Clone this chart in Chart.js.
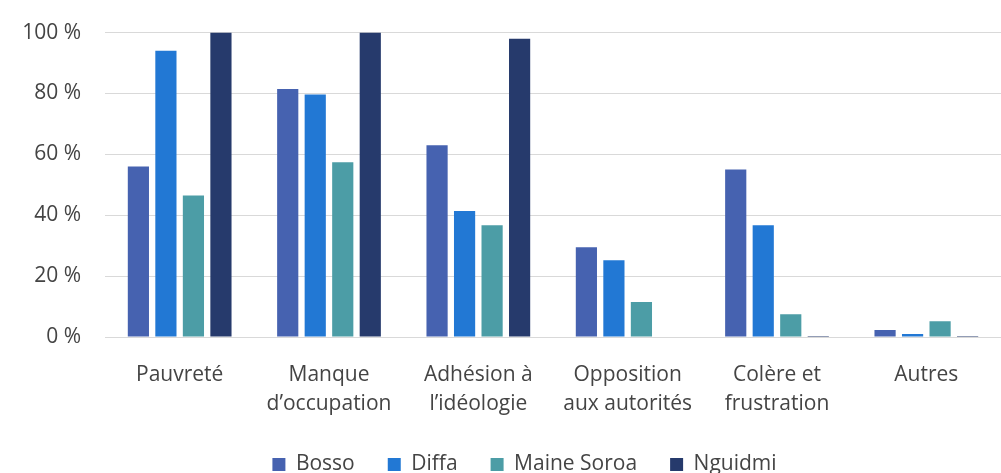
<!DOCTYPE html>
<html>
<head>
<meta charset="utf-8">
<script src="https://cdn.jsdelivr.net/npm/chart.js@4"></script>
<style>
  html, body { margin: 0; padding: 0; background: #ffffff; overflow: hidden; }
  #wrap { width: 1001px; height: 477px; position: relative; margin-top: -4px; }
</style>
</head>
<body>
<div id="wrap"><canvas id="chart"></canvas></div>
<script>
// categories (two-line labels as in the source)
let categories = [
    ['Pauvreté'],
    ['Manque', 'd\u2019occupation'],
    ['Adhésion à', 'l\u2019idéologie'],
    ['Opposition', 'aux autorités'],
    ['Colère et', 'frustration'],
    ['Autres']
]

// values in %
let bosso      = [56, 81.5, 63, 29.5, 55, 2.3]
let diffa      = [94, 79.7, 41.4, 25.2, 36.7, 1]
let maineSoroa = [46.5, 57.4, 36.7, 11.5, 7.5, 5.2]
let nguidmi    = [100, 100, 98, 0, 0.3, 0.3]

let seriesNames = ['Bosso', 'Diffa', 'Maine Soroa', 'Nguidmi']
let yTicks = [0, 20, 40, 60, 80, 100]

let colors = ['#4662b0', '#2278d4', '#4c9da6', '#263a6c']
let textColor = '#444444'
let font = { family: "'Open Sans', sans-serif", size: 21 }

let seriesValues = [bosso, diffa, maineSoroa, nguidmi]

// legend in the source sits a bit right of the canvas centre
let legendShift = {
    id: 'legendShift',
    afterLayout: function (chart) {
        chart.legend.left += 19
        chart.legend.right += 19
    }
}

let chart = new Chart(document.getElementById('chart'), {
    type: 'bar',
    data: {
        labels: categories,
        datasets: seriesNames.map((name, i) => {
            return {
                label: name,
                data: seriesValues[i],
                backgroundColor: colors[i],
                borderWidth: 0,
                categoryPercentage: 0.737,
                barPercentage: 0.77
            }
        })
    },
    options: {
        responsive: true,
        maintainAspectRatio: false,
        animation: false,
        layout: {
            padding: { top: 24, left: 0, right: -10, bottom: -12 }
        },
        scales: {
            x: {
                grid: { display: false },
                border: { display: false },
                afterFit: function (scale) {
                    scale.height = 84
                },
                ticks: {
                    color: textColor,
                    font: Object.assign({ lineHeight: 1.38 }, font),
                    padding: 16,
                    maxRotation: 0,
                    autoSkip: false
                }
            },
            y: {
                min: 0,
                max: 100,
                afterBuildTicks: function (scale) {
                    scale.ticks = yTicks.map(v => ({ value: v }))
                },
                afterFit: function (scale) {
                    // keep plot left edge where the reference has it
                    scale.width = 105
                },
                grid: {
                    color: '#d9d9d9',
                    lineWidth: 1,
                    drawTicks: false
                },
                border: { display: false },
                ticks: {
                    color: textColor,
                    font: font,
                    padding: 24,
                    callback: function (value) {
                        return value + ' %'
                    }
                }
            }
        },
        plugins: {
            legend: {
                position: 'bottom',
                labels: {
                    color: textColor,
                    font: font,
                    boxWidth: 13,
                    boxHeight: 13,
                    padding: 33
                }
            },
            tooltip: { enabled: false }
        }
    },
    plugins: [legendShift]
})
</script>
</body>
</html>
